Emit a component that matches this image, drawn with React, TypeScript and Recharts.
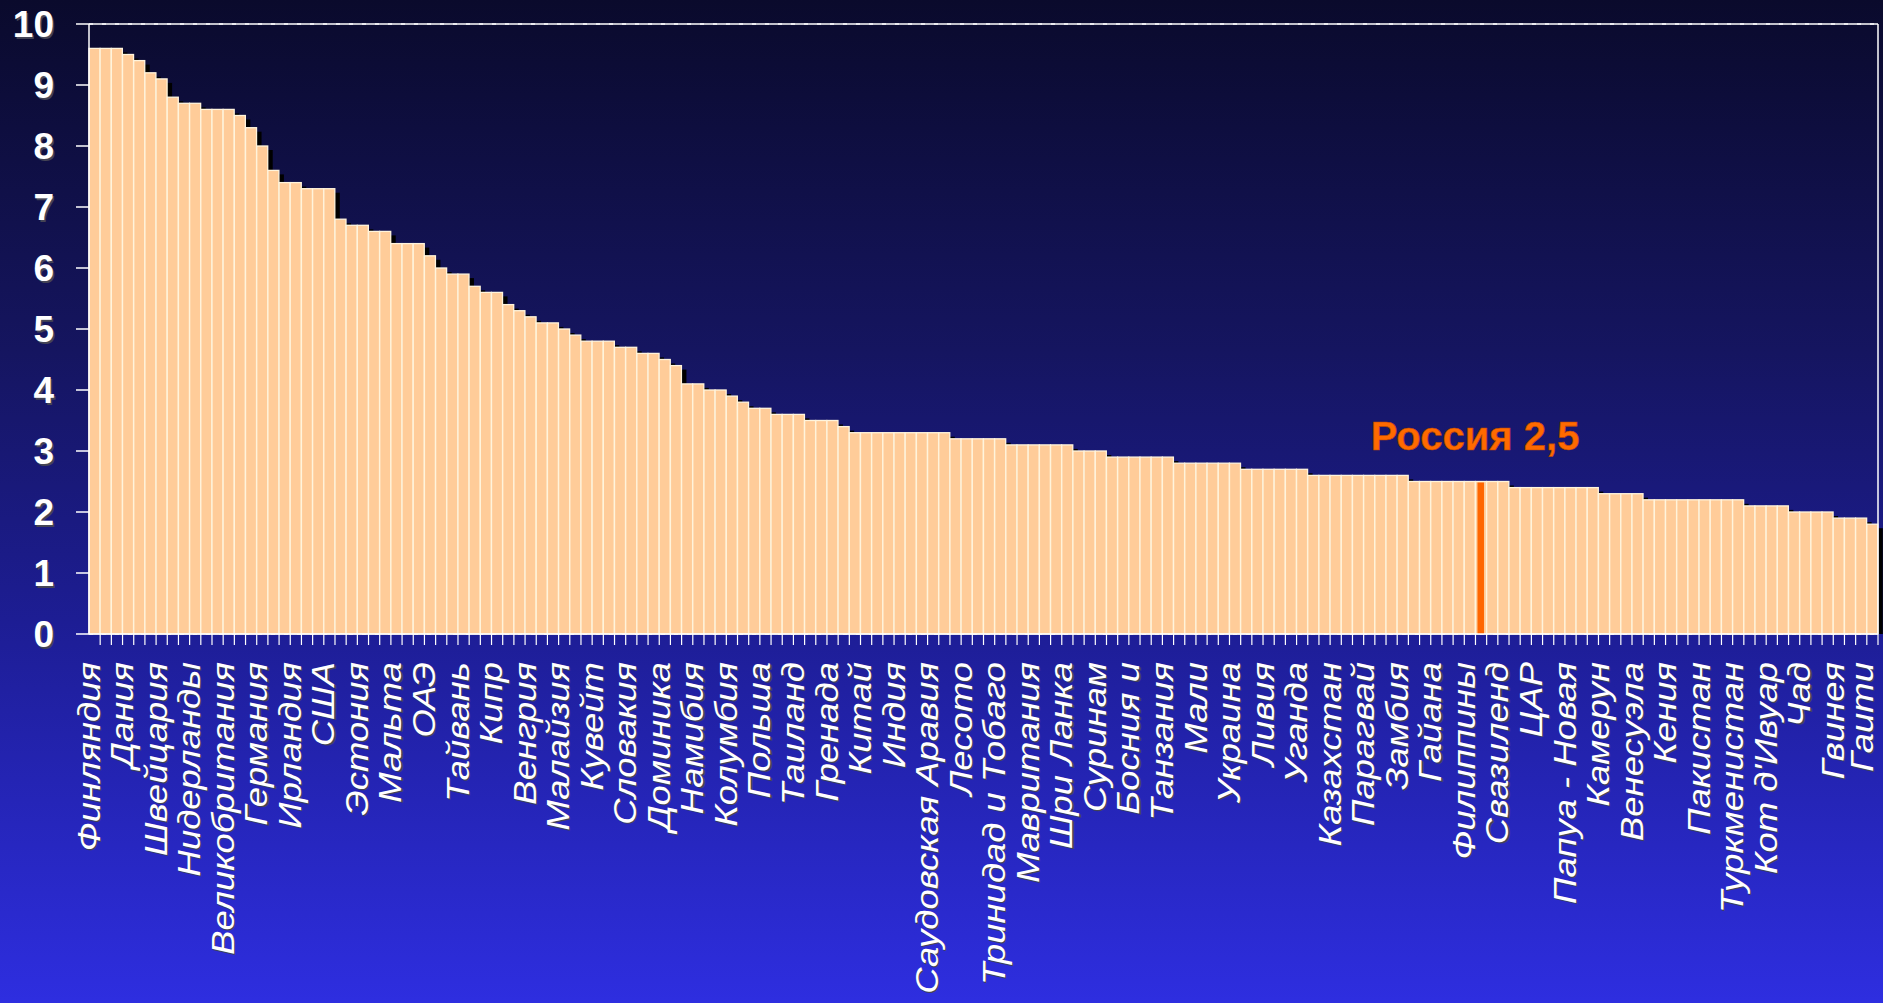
import React from 'react';
import { BarChart, Bar, XAxis, YAxis, CartesianGrid, ReferenceLine, ReferenceDot } from 'recharts';

const countries = [
  'Финляндия', 'Исландия', 'Новая Зеландия', 'Дания', 'Сингапур', 'Швеция', 'Швейцария', 'Норвегия', 'Австралия', 'Нидерланды',
  'Австрия', 'Люксембург', 'Великобритания', 'Канада', 'Гонконг', 'Германия', 'Япония', 'Франция', 'Ирландия', 'Бельгия',
  'Чили', 'США', 'Испания', 'Барбадос', 'Эстония', 'Макао', 'Португалия', 'Мальта', 'Словения', 'Уругвай',
  'ОАЭ', 'Бутан', 'Израиль', 'Тайвань', 'Бахрейн', 'Ботсвана', 'Кипр', 'Оман', 'Иордания', 'Венгрия',
  'Маврикий', 'Южная Корея', 'Малайзия', 'Италия', 'Чехия', 'Кувейт', 'Литва', 'Латвия', 'Словакия', 'ЮАР',
  'Тунис', 'Доминика', 'Греция', 'Коста-Рика', 'Намибия', 'Болгария', 'Сальвадор', 'Колумбия', 'Турция', 'Ямайка',
  'Польша', 'Ливан', 'Сейшелы', 'Таиланд', 'Белиз', 'Куба', 'Гренада', 'Хорватия', 'Бразилия', 'Китай',
  'Египет', 'Гана', 'Индия', 'Мексика', 'Перу', 'Саудовская Аравия', 'Сенегал', 'Буркина-Фасо', 'Лесото', 'Молдова',
  'Марокко', 'Тринидад и Тобаго', 'Алжир', 'Мадагаскар', 'Мавритания', 'Панама', 'Румыния', 'Шри Ланка', 'Габон', 'Сербия',
  'Суринам', 'Аргентина', 'Армения', 'Босния и', 'Эритрея', 'Сирия', 'Танзания', 'Доминиканская Республика', 'Грузия', 'Мали',
  'Монголия', 'Мозамбик', 'Украина', 'Боливия', 'Иран', 'Ливия', 'Македония', 'Малави', 'Уганда', 'Албания',
  'Гватемала', 'Казахстан', 'Лаос', 'Никарагуа', 'Парагвай', 'Вьетнам', 'Йемен', 'Замбия', 'Бенин', 'Гамбия',
  'Гайана', 'Гондурас', 'Непал', 'Филиппины', 'Россия', 'Руанда', 'Свазиленд', 'Азербайджан', 'Бурунди', 'ЦАР',
  'Эфиопия', 'Индонезия', 'Папуа - Новая', 'Того', 'Зимбабве', 'Камерун', 'Эквадор', 'Нигер', 'Венесуэла', 'Ангола',
  'Конго', 'Кения', 'Киргизия', 'Нигерия', 'Пакистан', 'Сьерра-Леоне', 'Таджикистан', 'Туркменистан', 'Белоруссия', 'Камбоджа',
  "Кот д'Ивуар", 'Экваториальная Гвинея', 'Бангладеш', 'Чад', 'ДР Конго', 'Судан', 'Гвинея', 'Ирак', 'Мьянма', 'Гаити',
];

const scores = [
  9.6, 9.6, 9.6, 9.5, 9.4, 9.2, 9.1, 8.8, 8.7, 8.7,
  8.6, 8.6, 8.6, 8.5, 8.3, 8.0, 7.6, 7.4, 7.4, 7.3,
  7.3, 7.3, 6.8, 6.7, 6.7, 6.6, 6.6, 6.4, 6.4, 6.4,
  6.2, 6.0, 5.9, 5.9, 5.7, 5.6, 5.6, 5.4, 5.3, 5.2,
  5.1, 5.1, 5.0, 4.9, 4.8, 4.8, 4.8, 4.7, 4.7, 4.6,
  4.6, 4.5, 4.4, 4.1, 4.1, 4.0, 4.0, 3.9, 3.8, 3.7,
  3.7, 3.6, 3.6, 3.6, 3.5, 3.5, 3.5, 3.4, 3.3, 3.3,
  3.3, 3.3, 3.3, 3.3, 3.3, 3.3, 3.3, 3.2, 3.2, 3.2,
  3.2, 3.2, 3.1, 3.1, 3.1, 3.1, 3.1, 3.1, 3.0, 3.0,
  3.0, 2.9, 2.9, 2.9, 2.9, 2.9, 2.9, 2.8, 2.8, 2.8,
  2.8, 2.8, 2.8, 2.7, 2.7, 2.7, 2.7, 2.7, 2.7, 2.6,
  2.6, 2.6, 2.6, 2.6, 2.6, 2.6, 2.6, 2.6, 2.5, 2.5,
  2.5, 2.5, 2.5, 2.5, 2.5, 2.5, 2.5, 2.4, 2.4, 2.4,
  2.4, 2.4, 2.4, 2.4, 2.4, 2.3, 2.3, 2.3, 2.3, 2.2,
  2.2, 2.2, 2.2, 2.2, 2.2, 2.2, 2.2, 2.2, 2.1, 2.1,
  2.1, 2.1, 2.0, 2.0, 2.0, 2.0, 1.9, 1.9, 1.9, 1.8,
];

const yTicks = [0, 1, 2, 3, 4, 5, 6, 7, 8, 9, 10];
const highlightCountry = 'Россия';
const highlightLabel = 'Россия 2,5';
const labelStep = 3;

const data = countries.map((name, i) => ({ name, score: scores[i] }));

const W = 1883;
const H = 1003;
const PLOT_LEFT = 89;
const PLOT_RIGHT = 1878;
const PLOT_TOP = 24;
const PLOT_BOTTOM = 634;
const BAND = (PLOT_RIGHT - PLOT_LEFT) / countries.length;
const FONT = "Arial, 'Liberation Sans', sans-serif";

function ScoreBar(props: any) {
  const { x, y, width, height, payload } = props;
  if (!height || height <= 0) return null;
  const isHL = payload && payload.name === highlightCountry;
  return (
    <g>
      <rect x={x + 5} y={y + 4} width={width} height={Math.max(0, height - 4)} fill="#000" />
      <rect x={x} y={y} width={width} height={height} fill="#FFCC99" stroke="#FFF4DC" strokeWidth={1.3} />
      {isHL && <rect x={x + 2} y={y + 1} width={width - 4.5} height={height - 1} fill="#FF6600" />}
    </g>
  );
}

function CountryTick(props: any) {
  const { x, payload } = props;
  const i = payload && payload.index !== undefined ? payload.index : props.index;
  const right = x + BAND / 2;
  const show = i % labelStep === 0;
  // keep the last label's glyphs inside the page
  const bx = Math.min(x + 5, W - 10);
  const ty = 662;
  return (
    <g>
      <line x1={right} x2={right} y1={PLOT_BOTTOM} y2={PLOT_BOTTOM + 11} stroke="#ffffff" strokeWidth={1.2} />
      {show && (
        <g fontFamily={FONT} fontSize={32} fontStyle="italic" textAnchor="end">
          <text transform={`translate(${bx + 1.2},${ty + 1.2}) rotate(-90) scale(1.14,1)`} fill="#444455">
            {payload.value}
          </text>
          <text transform={`translate(${bx},${ty}) rotate(-90) scale(1.14,1)`} fill="#ffffff">
            {payload.value}
          </text>
        </g>
      )}
    </g>
  );
}

function ScoreTick(props: any) {
  const { x, y, payload } = props;
  return (
    <g fontFamily={FONT} fontSize={37} fontWeight="bold" textAnchor="end">
      <text x={x + 1.5} y={y + 1.5} dy="0.36em" fill="#444455">{payload.value}</text>
      <text x={x} y={y} dy="0.36em" fill="#ffffff">{payload.value}</text>
    </g>
  );
}

function RussiaLabel(props: any) {
  const vb = props.viewBox || {};
  const cx = vb.x + (vb.width || 0) / 2;
  const cy = vb.y;
  return (
    <text
      x={cx - 6}
      y={cy - 32}
      textAnchor="middle"
      fontFamily={FONT}
      fontSize={40}
      fontWeight="bold"
      fill="#FF6A00"
      stroke="#B84800"
      strokeWidth={0.6}
    >
      {highlightLabel}
    </text>
  );
}

export default function App() {
  return (
    <div
      style={{
        position: 'absolute',
        left: 0,
        top: 0,
        width: W,
        height: H,
        overflow: 'hidden',
        background: 'linear-gradient(to bottom, #0a0a2c 0%, #151560 35%, #1d1d94 62%, #2e2ee0 100%)',
      }}
    >
      <BarChart
        width={W}
        height={H}
        data={data}
        margin={{ top: PLOT_TOP, right: 0, bottom: 0, left: 0 }}
        barCategoryGap={0}
        barGap={0}
      >
        <CartesianGrid vertical={false} stroke="#e8e8f0" strokeDasharray="4 9" strokeWidth={1.4} />
        <XAxis
          dataKey="name"
          interval={0}
          height={H - PLOT_BOTTOM}
          axisLine={{ stroke: '#ffffff', strokeWidth: 1.5 }}
          tickLine={false}
          tick={<CountryTick />}
        />
        <YAxis
          yAxisId="left"
          domain={[0, 10]}
          ticks={yTicks}
          interval={0}
          width={PLOT_LEFT}
          tickSize={13}
          tickMargin={22}
          axisLine={{ stroke: '#ffffff', strokeWidth: 1.5 }}
          tickLine={{ stroke: '#ffffff', strokeWidth: 1.5 }}
          tick={<ScoreTick />}
        />
        <YAxis
          yAxisId="right"
          orientation="right"
          domain={[0, 10]}
          width={W - PLOT_RIGHT}
          tick={false}
          tickLine={false}
          axisLine={{ stroke: '#ffffff', strokeWidth: 1.5 }}
        />
        <ReferenceLine yAxisId="left" y={10} stroke="#ffffff" strokeWidth={1.5} />
        <Bar yAxisId="left" dataKey="score" shape={<ScoreBar />} isAnimationActive={false} />
        <ReferenceDot
          yAxisId="left"
          x={highlightCountry}
          y={2.5}
          r={0}
          fill="none"
          stroke="none"
          label={RussiaLabel}
        />
      </BarChart>
    </div>
  );
}
